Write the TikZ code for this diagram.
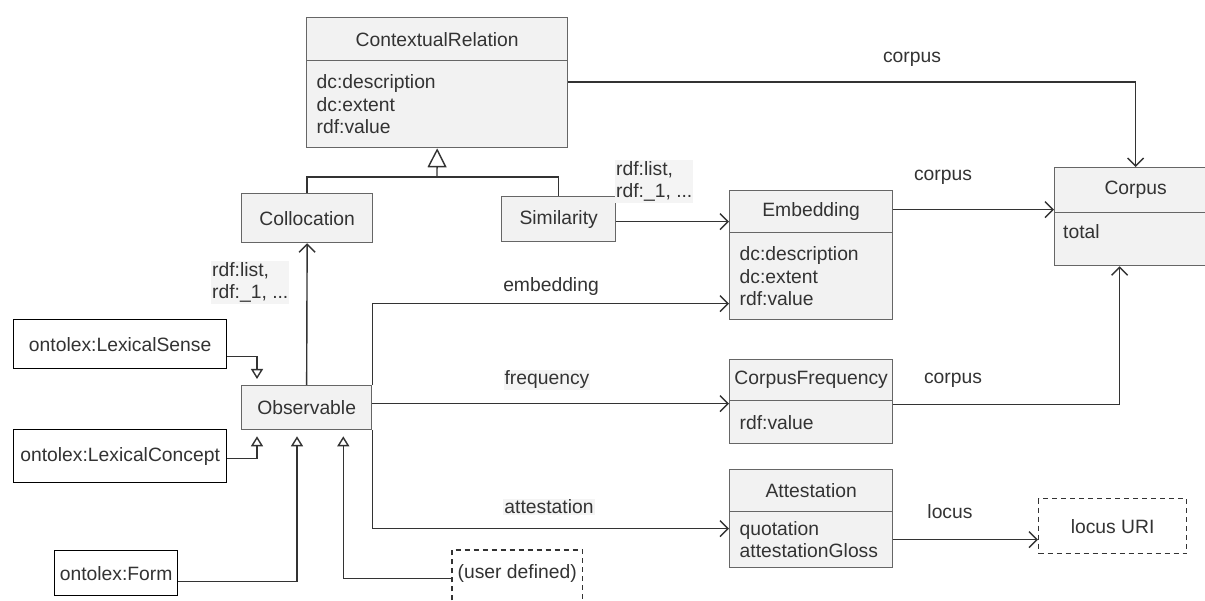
\documentclass[tikz,border=0pt]{standalone}
\usepackage{fontspec}
\setmainfont{Liberation Sans}
\usetikzlibrary{arrows.meta,calc}
\definecolor{boxfill}{HTML}{F2F2F2}
\definecolor{boxline}{HTML}{666666}
\definecolor{ink}{HTML}{333333}
\definecolor{labfill}{HTML}{F4F4F4}
\begin{document}
\begin{tikzpicture}[x=1pt,y=-1pt,
  every node/.style={font=\fontsize{19.3}{22.5}\selectfont, text=ink},
  hdr/.style={draw=boxline, fill=boxfill, line width=1.3pt, inner sep=0pt, anchor=north west},
  bdy/.style={draw=boxline, fill=boxfill, line width=1.3pt, inner xsep=10pt, inner ysep=0pt, anchor=north west, align=left},
  plainbox/.style={draw=black, fill=white, line width=1.3pt, inner sep=0pt, anchor=north west},
  dashbox/.style={draw=ink, dash pattern=on 5pt off 4pt, line width=1.3pt, inner sep=0pt, anchor=north west},
  conn/.style={draw=ink, line width=1.4pt},
  assoc/.style={conn, -{Straight Barb[length=8pt,width=16pt,line width=1.4pt]}},
  gen/.style={conn, -{Triangle[open,length=19pt,width=19pt,line width=1.4pt]}},
  gens/.style={conn, -{Triangle[open,length=10pt,width=12pt,line width=1.4pt]}, shorten >=6pt},
  lab/.style={inner sep=1pt},
  labbg/.style={fill=labfill, inner sep=1pt, align=left},
]
\useasboundingbox (0,0) rectangle (1205,601);
\clip (0,0) rectangle (1205,601);
\fill[white] (0,0) rectangle (1205,601);

% classes
\node[hdr, minimum width=261pt, minimum height=43pt] (crH) at (306,17) {ContextualRelation};
\node[bdy, minimum width=261pt, minimum height=87pt, text width=241pt] (crB) at (306,60) {dc:description\\dc:extent\\rdf:value};
\node[hdr, minimum width=131pt, minimum height=49pt] (col) at (241,193) {Collocation};
\node[hdr, minimum width=114pt, minimum height=45pt] (sim) at (501,196) {Similarity};
\node[hdr, minimum width=163pt, minimum height=42pt] (embH) at (729,190) {Embedding};
\node[bdy, minimum width=163pt, minimum height=87pt, text width=143pt] (embB) at (729,232) {dc:description\\dc:extent\\rdf:value};
\node[hdr, minimum width=162pt, minimum height=45pt] (corH) at (1054,167) {Corpus};
\node[bdy, minimum width=162pt, minimum height=53pt] (corB) at (1054,212) {};
\node[anchor=west, inner sep=0pt] (corA) at (1063,232) {total};
\node[hdr, minimum width=163pt, minimum height=41pt] (cfH) at (729,359) {CorpusFrequency};
\node[bdy, minimum width=163pt, minimum height=43pt, text width=143pt] (cfB) at (729,400) {rdf:value};
\node[hdr, minimum width=163pt, minimum height=42pt] (attH) at (729,469) {Attestation};
\node[bdy, minimum width=163pt, minimum height=56pt, text width=143pt] (attB) at (729,511) {quotation\\attestationGloss};
\node[hdr, minimum width=130pt, minimum height=44pt] (obs) at (241,385) {Observable};

\node[plainbox, minimum width=213pt, minimum height=49pt] (ls) at (13,319) {ontolex:LexicalSense};
\node[plainbox, minimum width=213pt, minimum height=53pt] (lc) at (13,429) {ontolex:LexicalConcept};
\node[plainbox, minimum width=123pt, minimum height=45pt] (form) at (54,550) {ontolex:Form};

\node[dashbox, minimum width=148pt, minimum height=55pt] (locus) at (1038,498) {locus URI};
\node[inner sep=0pt, minimum width=130pt, minimum height=46pt, anchor=north west] (ud) at (452,550) {(user defined)};
\draw[draw=ink, dash pattern=on 5pt off 4pt, line width=1.3pt] ([yshift=-40pt]ud.south west) |- (ud.north east) -- ([yshift=-40pt]ud.south east);

% generalization of ContextualRelation
\coordinate (gj) at (437,177);
\draw[conn] (col.north) |- (gj) -| (sim.north);
\draw[gen] (gj) -- (crB.south);

% associations
\coordinate (cr1) at ([yshift=-22pt]crB.north east);
\draw[assoc] (cr1) -| (corH.north);
\coordinate (s1) at ([yshift=-2.5pt]sim.east);
\draw[assoc] (s1) -- (s1 -| embH.west);
\coordinate (e1) at ([yshift=2pt]embH.east);
\draw[assoc] (e1) -- (e1 -| corH.west);
\draw[assoc] (obs.north) -- (col.south);
\coordinate (o1) at ([yshift=-27.5pt]embB.west);
\draw[assoc] (obs.north east) |- (o1);
\coordinate (o2) at ([yshift=4pt]obs.east);
\draw[assoc] (o2) -- (o2 -| cfB.west);
\coordinate (o3) at ([yshift=11pt]attB.west);
\draw[assoc] (obs.south east) |- (o3);
\coordinate (c1) at ([yshift=17.5pt]cfB.east);
\coordinate (c2) at ([xshift=-16pt]corB.south);
\draw[assoc] (c1) -| (c2);
\draw[assoc] (attB.east) -- (attB.east -| locus.west);

% subclasses of Observable
\coordinate (l1) at ([yshift=-12.5pt]ls.east);
\coordinate (l2) at ([xshift=16pt]obs.north west);
\draw[gens] (l1) -| (l2);
\coordinate (l3) at ([yshift=-2.5pt]lc.east);
\coordinate (l4) at ([xshift=16pt]obs.south west);
\draw[gens] (l3) -| (l4);
\coordinate (f1) at ([yshift=-8.5pt]form.east);
\coordinate (f2) at ([xshift=56pt]obs.south west);
\draw[gens] (f1) -| (f2);
\coordinate (u1) at ([yshift=-5pt]ud.west);
\coordinate (u2) at ([xshift=-29pt]obs.south east);
\draw[gens] (u1) -| (u2);

% labels
\node[lab] (lcorpus1) at (912,59) {corpus};
\node[lab] (lcorpus2) at (943,177) {corpus};
\node[lab] (lcorpus3) at (953,380) {corpus};
\node[lab] (llocus) at (950,512) {locus};
\node[lab] (lemb) at (551,287) {embedding};
\node[labbg] (lfreq) at (547,380) {frequency};
\node[labbg] (latt) at (549,507) {attestation};
\node[labbg, anchor=west] (lrdf1) at (615,181.5) {rdf:list,\\rdf:\_1, ...};
\node[labbg, anchor=west] (lrdf2) at (211,282.5) {rdf:list,\\rdf:\_1, ...};
\end{tikzpicture}
\end{document}
